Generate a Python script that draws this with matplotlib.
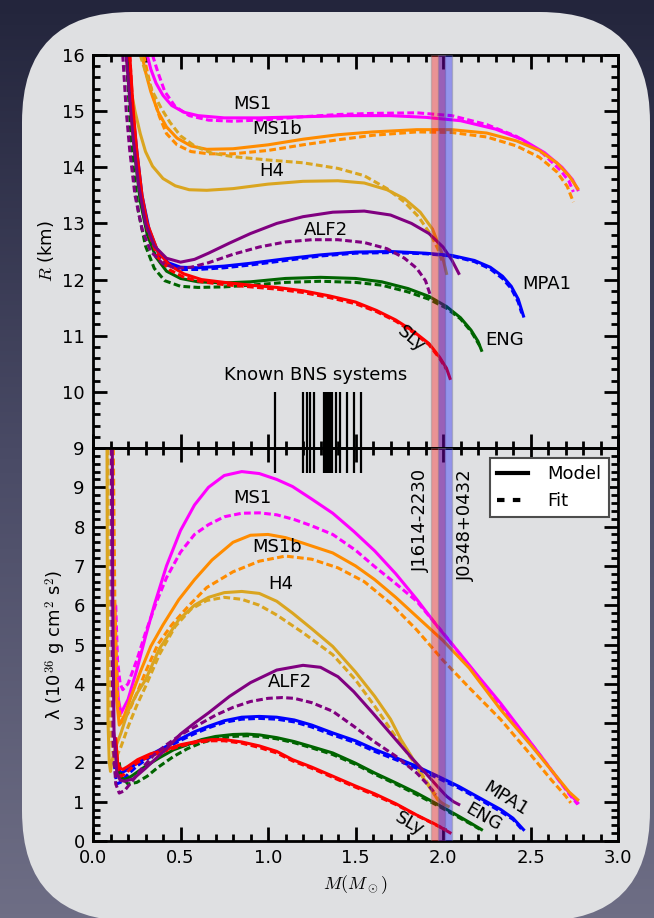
import numpy as np
import matplotlib
matplotlib.use("Agg")
import matplotlib.pyplot as plt
from matplotlib.patches import FancyBboxPatch
from matplotlib.lines import Line2D
from matplotlib.ticker import MultipleLocator

plt.rcParams['font.family'] = ['DejaVu Sans']
plt.rcParams['mathtext.fontset'] = 'cm'

# ---- data: R(M) panel (model = solid, fit = dashed) ----
ms1_m = [0.31, 0.33, 0.36, 0.40, 0.45, 0.52, 0.60, 0.75, 0.95, 1.2, 1.45, 1.7, 1.9, 2.1, 2.3, 2.45, 2.58, 2.68, 2.74, 2.77]
ms1_r = [16.0, 15.75, 15.5, 15.28, 15.1, 14.98, 14.92, 14.88, 14.88, 14.9, 14.92, 14.92, 14.89, 14.83, 14.68, 14.5, 14.26, 14.0, 13.78, 13.6]
ms1_fm = [0.34, 0.37, 0.41, 0.47, 0.55, 0.66, 0.8, 1.0, 1.2, 1.4, 1.6, 1.85, 2.05, 2.25, 2.42, 2.57, 2.67, 2.72, 2.745]
ms1_fr = [16.0, 15.7, 15.35, 15.08, 14.92, 14.84, 14.82, 14.85, 14.9, 14.94, 14.96, 14.97, 14.92, 14.76, 14.55, 14.25, 13.95, 13.75, 13.56]

ms1b_m = [0.28, 0.30, 0.33, 0.37, 0.42, 0.48, 0.56, 0.65, 0.8, 1.0, 1.2, 1.4, 1.6, 1.85, 2.05, 2.25, 2.42, 2.55, 2.65, 2.72, 2.77]
ms1b_r = [16.0, 15.7, 15.35, 15.0, 14.72, 14.52, 14.38, 14.32, 14.33, 14.4, 14.5, 14.58, 14.63, 14.67, 14.67, 14.61, 14.47, 14.3, 14.08, 13.85, 13.62]
ms1b_fm = [0.29, 0.31, 0.34, 0.38, 0.42, 0.48, 0.56, 0.66, 0.8, 1.0, 1.2, 1.4, 1.6, 1.85, 2.05, 2.25, 2.42, 2.55, 2.65, 2.71, 2.745]
ms1b_fr = [16.0, 15.7, 15.3, 14.9, 14.6, 14.4, 14.28, 14.24, 14.24, 14.3, 14.4, 14.49, 14.57, 14.63, 14.62, 14.54, 14.38, 14.18, 13.92, 13.66, 13.38]

h4_m = [0.19, 0.21, 0.24, 0.27, 0.30, 0.34, 0.40, 0.47, 0.55, 0.65, 0.8, 1.0, 1.2, 1.4, 1.55, 1.68, 1.78, 1.87, 1.94, 1.99, 2.02]
h4_r = [16.0, 15.5, 15.0, 14.6, 14.28, 14.02, 13.8, 13.67, 13.6, 13.59, 13.62, 13.7, 13.75, 13.76, 13.72, 13.6, 13.44, 13.2, 12.9, 12.5, 12.11]
h4_fm = [0.27, 0.30, 0.34, 0.39, 0.44, 0.50, 0.58, 0.68, 0.8, 1.0, 1.2, 1.4, 1.55, 1.68, 1.78, 1.86, 1.93, 1.97, 2.0]
h4_fr = [16.0, 15.7, 15.35, 15.05, 14.8, 14.56, 14.38, 14.25, 14.19, 14.13, 14.08, 13.98, 13.85, 13.62, 13.38, 13.12, 12.8, 12.55, 12.29]

alf2_m = [0.19, 0.21, 0.23, 0.26, 0.30, 0.35, 0.42, 0.50, 0.58, 0.66, 0.78, 0.9, 1.05, 1.2, 1.37, 1.55, 1.7, 1.82, 1.92, 2.0, 2.05, 2.09]
alf2_r = [16.0, 15.2, 14.5, 13.7, 13.0, 12.6, 12.38, 12.31, 12.36, 12.47, 12.65, 12.82, 13.0, 13.12, 13.2, 13.22, 13.15, 13.0, 12.82, 12.58, 12.35, 12.11]
alf2_fm = [0.17, 0.19, 0.21, 0.24, 0.28, 0.33, 0.40, 0.48, 0.56, 0.66, 0.8, 0.95, 1.1, 1.25, 1.4, 1.55, 1.68, 1.78, 1.85, 1.9, 1.93]
alf2_fr = [16.0, 15.0, 14.3, 13.5, 12.9, 12.5, 12.28, 12.2, 12.22, 12.3, 12.45, 12.58, 12.67, 12.71, 12.71, 12.66, 12.55, 12.38, 12.2, 11.98, 11.7]

mpa1_m = [0.20, 0.22, 0.25, 0.28, 0.32, 0.37, 0.43, 0.50, 0.6, 0.75, 0.9, 1.1, 1.3, 1.5, 1.7, 1.9, 2.05, 2.18, 2.27, 2.34, 2.39, 2.43, 2.46]
mpa1_r = [16.0, 15.2, 14.3, 13.5, 12.9, 12.5, 12.3, 12.22, 12.21, 12.24, 12.29, 12.37, 12.44, 12.49, 12.5, 12.47, 12.43, 12.34, 12.22, 12.06, 11.88, 11.65, 11.35]
mpa1_fm = [0.20, 0.22, 0.25, 0.28, 0.32, 0.37, 0.43, 0.50, 0.6, 0.75, 0.9, 1.1, 1.3, 1.5, 1.7, 1.9, 2.05, 2.18, 2.27, 2.34, 2.39, 2.43, 2.45]
mpa1_fr = [16.0, 15.1, 14.2, 13.4, 12.8, 12.42, 12.25, 12.18, 12.18, 12.21, 12.26, 12.34, 12.42, 12.47, 12.48, 12.46, 12.42, 12.32, 12.19, 12.02, 11.84, 11.6, 11.4]

eng_m = [0.20, 0.22, 0.24, 0.27, 0.31, 0.36, 0.42, 0.50, 0.6, 0.75, 0.9, 1.1, 1.3, 1.5, 1.65, 1.8, 1.92, 2.02, 2.1, 2.16, 2.2, 2.22]
eng_r = [16.0, 15.0, 14.2, 13.4, 12.8, 12.4, 12.15, 12.02, 11.96, 11.94, 11.96, 12.02, 12.04, 12.02, 11.96, 11.84, 11.7, 11.52, 11.32, 11.1, 10.9, 10.74]
eng_fm = [0.19, 0.21, 0.23, 0.26, 0.30, 0.35, 0.41, 0.50, 0.6, 0.75, 0.9, 1.1, 1.3, 1.5, 1.65, 1.8, 1.92, 2.02, 2.1, 2.16, 2.21]
eng_fr = [16.0, 14.9, 14.0, 13.2, 12.6, 12.2, 11.98, 11.88, 11.86, 11.87, 11.9, 11.95, 11.97, 11.95, 11.9, 11.78, 11.65, 11.49, 11.3, 11.08, 10.82]

sly_m = [0.21, 0.23, 0.25, 0.28, 0.31, 0.37, 0.44, 0.52, 0.62, 0.75, 0.9, 1.05, 1.2, 1.35, 1.5, 1.62, 1.73, 1.83, 1.92, 1.98, 2.02, 2.04]
sly_r = [16.0, 15.0, 14.3, 13.5, 13.0, 12.5, 12.25, 12.1, 12.0, 11.95, 11.9, 11.86, 11.8, 11.71, 11.6, 11.45, 11.28, 11.08, 10.86, 10.62, 10.42, 10.24]
sly_fm = [0.21, 0.23, 0.25, 0.28, 0.31, 0.37, 0.44, 0.52, 0.62, 0.75, 0.9, 1.05, 1.2, 1.35, 1.5, 1.62, 1.73, 1.83, 1.92, 1.98, 2.02]
sly_fr = [16.0, 14.9, 14.2, 13.4, 12.9, 12.4, 12.17, 12.04, 11.96, 11.91, 11.87, 11.83, 11.77, 11.68, 11.57, 11.43, 11.26, 11.06, 10.84, 10.6, 10.4]

# ---- data: lambda(M) panel, 1e36 g cm^2 s^2 ----
ms1_lm = [0.125, 0.13, 0.145, 0.16, 0.2, 0.25, 0.3, 0.35, 0.42, 0.5, 0.58, 0.66, 0.75, 0.85, 0.95, 1.05, 1.14, 1.25, 1.37, 1.49, 1.61, 1.73, 1.85, 1.97, 2.1, 2.2, 2.33, 2.45, 2.57, 2.67, 2.73, 2.77]
ms1_l = [6.0, 4.8, 3.6, 3.25, 3.6, 4.35, 5.2, 6.0, 7.0, 7.9, 8.55, 9.0, 9.3, 9.4, 9.35, 9.2, 9.02, 8.7, 8.34, 7.88, 7.38, 6.8, 6.15, 5.45, 4.75, 4.2, 3.5, 2.8, 2.1, 1.5, 1.18, 0.97]
ms1_flm = [0.13, 0.14, 0.155, 0.17, 0.2, 0.25, 0.3, 0.36, 0.42, 0.5, 0.58, 0.66, 0.75, 0.85, 0.95, 1.05, 1.15, 1.25, 1.37, 1.5, 1.61, 1.73, 1.85, 2.0, 2.15, 2.33, 2.5, 2.62, 2.72, 2.77]
ms1_fl = [6.0, 4.6, 4.0, 3.85, 4.0, 4.6, 5.3, 6.05, 6.7, 7.35, 7.8, 8.05, 8.25, 8.34, 8.35, 8.3, 8.18, 8.02, 7.8, 7.4, 6.98, 6.55, 6.1, 5.3, 4.45, 3.43, 2.5, 1.8, 1.2, 0.93]

ms1b_lm = [0.12, 0.125, 0.135, 0.15, 0.18, 0.22, 0.27, 0.33, 0.4, 0.49, 0.58, 0.68, 0.8, 0.9, 1.0, 1.1, 1.2, 1.37, 1.5, 1.61, 1.73, 1.85, 2.0, 2.15, 2.33, 2.5, 2.62, 2.72, 2.77]
ms1b_l = [6.0, 4.6, 3.6, 2.95, 3.2, 3.7, 4.3, 4.95, 5.5, 6.14, 6.65, 7.15, 7.6, 7.78, 7.8, 7.72, 7.58, 7.33, 7.0, 6.65, 6.2, 5.71, 5.1, 4.4, 3.34, 2.45, 1.8, 1.25, 1.05]
ms1b_flm = [0.115, 0.125, 0.14, 0.16, 0.2, 0.25, 0.3, 0.37, 0.45, 0.55, 0.65, 0.8, 0.95, 1.1, 1.25, 1.4, 1.55, 1.7, 1.85, 2.0, 2.15, 2.33, 2.5, 2.62, 2.7, 2.73]
ms1b_fl = [10.5, 6.0, 3.7, 3.0, 3.25, 3.75, 4.3, 5.0, 5.5, 6.0, 6.45, 6.85, 7.12, 7.25, 7.17, 6.95, 6.6, 6.05, 5.37, 4.6, 3.9, 3.09, 2.2, 1.55, 1.15, 0.97]

h4_lm = [0.08, 0.082, 0.086, 0.093, 0.1, 0.11, 0.13, 0.16, 0.2, 0.25, 0.3, 0.38, 0.49, 0.58, 0.66, 0.75, 0.85, 0.95, 1.05, 1.14, 1.25, 1.37, 1.5, 1.61, 1.7, 1.76, 1.82, 1.88, 1.93, 1.97, 2.0, 2.03]
h4_l = [10.5, 6.0, 3.0, 2.0, 1.77, 2.07, 2.4, 2.75, 3.3, 3.75, 4.1, 4.9, 5.63, 6.0, 6.2, 6.32, 6.35, 6.3, 6.1, 5.8, 5.4, 4.95, 4.3, 3.68, 3.1, 2.58, 2.15, 1.65, 1.32, 1.05, 0.95, 0.88]
h4_flm = [0.085, 0.09, 0.1, 0.115, 0.13, 0.16, 0.2, 0.25, 0.3, 0.38, 0.47, 0.56, 0.65, 0.75, 0.85, 0.95, 1.05, 1.2, 1.37, 1.5, 1.61, 1.73, 1.85, 1.93, 2.0]
h4_fl = [10.5, 5.0, 2.8, 2.2, 2.1, 2.4, 2.9, 3.45, 3.93, 4.75, 5.46, 5.9, 6.12, 6.2, 6.15, 6.0, 5.75, 5.3, 4.74, 4.1, 3.43, 2.65, 1.9, 1.35, 0.88]

alf2_lm = [0.11, 0.113, 0.12, 0.136, 0.155, 0.18, 0.23, 0.3, 0.36, 0.42, 0.5, 0.58, 0.66, 0.78, 0.9, 1.05, 1.2, 1.3, 1.4, 1.49, 1.6, 1.73, 1.82, 1.9, 1.97, 2.02, 2.06, 2.09]
alf2_l = [10.5, 6.0, 2.8, 1.73, 1.55, 1.52, 1.58, 1.85, 2.1, 2.35, 2.72, 3.0, 3.26, 3.68, 4.03, 4.35, 4.47, 4.42, 4.18, 3.8, 3.25, 2.58, 2.12, 1.73, 1.38, 1.14, 1.0, 0.93]
alf2_flm = [0.105, 0.108, 0.115, 0.13, 0.15, 0.18, 0.22, 0.28, 0.35, 0.42, 0.5, 0.6, 0.7, 0.8, 0.9, 1.0, 1.08, 1.15, 1.25, 1.37, 1.49, 1.6, 1.73, 1.85, 1.92, 1.96]
alf2_fl = [10.5, 5.5, 2.5, 1.45, 1.22, 1.28, 1.5, 1.85, 2.2, 2.45, 2.7, 2.95, 3.2, 3.4, 3.55, 3.63, 3.65, 3.63, 3.52, 3.3, 2.92, 2.55, 2.16, 1.73, 1.4, 1.18]

mpa1_lm = [0.125, 0.14, 0.16, 0.19, 0.255, 0.33, 0.42, 0.5, 0.58, 0.66, 0.75, 0.85, 0.95, 1.05, 1.15, 1.25, 1.37, 1.5, 1.61, 1.73, 1.85, 1.97, 2.09, 2.2, 2.33, 2.4, 2.46]
mpa1_l = [2.6, 1.85, 1.73, 1.8, 1.99, 2.2, 2.41, 2.6, 2.78, 2.92, 3.06, 3.15, 3.17, 3.15, 3.08, 2.95, 2.75, 2.55, 2.33, 2.12, 1.9, 1.65, 1.39, 1.12, 0.8, 0.58, 0.29]
mpa1_flm = [0.12, 0.135, 0.16, 0.2, 0.255, 0.33, 0.42, 0.5, 0.58, 0.66, 0.75, 0.85, 0.95, 1.05, 1.15, 1.25, 1.37, 1.5, 1.61, 1.73, 1.85, 1.97, 2.09, 2.2, 2.33, 2.4, 2.45]
mpa1_fl = [2.0, 1.45, 1.5, 1.7, 1.92, 2.15, 2.37, 2.56, 2.73, 2.88, 3.02, 3.1, 3.12, 3.1, 3.03, 2.9, 2.7, 2.5, 2.28, 2.07, 1.85, 1.6, 1.35, 1.08, 0.75, 0.55, 0.3]

eng_lm = [0.13, 0.145, 0.16, 0.18, 0.22, 0.3, 0.38, 0.46, 0.54, 0.62, 0.7, 0.8, 0.88, 0.95, 1.05, 1.15, 1.25, 1.37, 1.5, 1.61, 1.73, 1.85, 1.97, 2.09, 2.16, 2.22]
eng_l = [2.4, 1.75, 1.6, 1.56, 1.65, 1.9, 2.12, 2.32, 2.45, 2.58, 2.66, 2.71, 2.72, 2.7, 2.63, 2.53, 2.4, 2.24, 1.98, 1.73, 1.48, 1.22, 0.93, 0.63, 0.45, 0.29]
eng_flm = [0.15, 0.16, 0.2, 0.25, 0.31, 0.37, 0.46, 0.54, 0.62, 0.7, 0.8, 0.88, 0.95, 1.05, 1.15, 1.25, 1.37, 1.5, 1.61, 1.73, 1.85, 1.97, 2.09, 2.16, 2.21]
eng_fl = [2.0, 1.65, 1.45, 1.49, 1.65, 1.87, 2.15, 2.35, 2.5, 2.6, 2.66, 2.68, 2.66, 2.6, 2.5, 2.37, 2.2, 1.95, 1.7, 1.45, 1.18, 0.9, 0.6, 0.43, 0.3]

sly_lm = [0.13, 0.14, 0.155, 0.17, 0.2, 0.255, 0.33, 0.42, 0.5, 0.6, 0.68, 0.75, 0.85, 0.95, 1.05, 1.14, 1.25, 1.37, 1.5, 1.61, 1.73, 1.85, 1.95, 2.04]
sly_l = [2.6, 2.0, 1.85, 1.82, 1.9, 2.07, 2.22, 2.33, 2.45, 2.54, 2.58, 2.58, 2.52, 2.42, 2.28, 2.07, 1.88, 1.65, 1.4, 1.2, 0.95, 0.66, 0.44, 0.21]
sly_flm = [0.135, 0.145, 0.16, 0.18, 0.21, 0.255, 0.33, 0.42, 0.5, 0.6, 0.68, 0.75, 0.85, 0.95, 1.05, 1.14, 1.25, 1.37, 1.5, 1.61, 1.73, 1.85, 1.95, 2.02]
sly_fl = [2.2, 1.75, 1.65, 1.7, 1.82, 2.0, 2.17, 2.3, 2.42, 2.52, 2.55, 2.55, 2.49, 2.38, 2.24, 2.04, 1.85, 1.62, 1.37, 1.17, 0.93, 0.65, 0.43, 0.28]

# known BNS component masses and the two heavy pulsars
bns_masses = [1.04, 1.20, 1.22, 1.24, 1.26, 1.32, 1.33, 1.345, 1.355, 1.365, 1.39, 1.41, 1.45, 1.49, 1.53]
psr_bands = [(1.93, 2.01, 'red'), (1.97, 2.05, 'blue')]

eos = [
    ('MS1', 'magenta', ms1_m, ms1_r, ms1_fm, ms1_fr, ms1_lm, ms1_l, ms1_flm, ms1_fl),
    ('MS1b', 'darkorange', ms1b_m, ms1b_r, ms1b_fm, ms1b_fr, ms1b_lm, ms1b_l, ms1b_flm, ms1b_fl),
    ('H4', 'goldenrod', h4_m, h4_r, h4_fm, h4_fr, h4_lm, h4_l, h4_flm, h4_fl),
    ('MPA1', 'blue', mpa1_m, mpa1_r, mpa1_fm, mpa1_fr, mpa1_lm, mpa1_l, mpa1_flm, mpa1_fl),
    ('ENG', 'darkgreen', eng_m, eng_r, eng_fm, eng_fr, eng_lm, eng_l, eng_flm, eng_fl),
    ('SLy', 'red', sly_m, sly_r, sly_fm, sly_fr, sly_lm, sly_l, sly_flm, sly_fl),
    ('ALF2', 'purple', alf2_m, alf2_r, alf2_fm, alf2_fr, alf2_lm, alf2_l, alf2_flm, alf2_fl),
]

W, H = 654, 918
fig = plt.figure(figsize=(W / 100, H / 100), dpi=100)

# background: dark gradient + rounded light panel
bg = fig.add_axes([0, 0, 1, 1], zorder=-10)
grad = np.linspace(0, 1, 256)[:, None]
cmap = matplotlib.colors.LinearSegmentedColormap.from_list('bg', ['#23253c', '#4a4b66', '#6e6e85'])
bg.imshow(grad, aspect='auto', cmap=cmap, extent=[0, W, H, 0])
bg.add_patch(FancyBboxPatch((22, 12), 628, 909, boxstyle='round,pad=0,rounding_size=110',
                            facecolor='#dfe0e2', edgecolor='none'))
bg.set_xlim(0, W)
bg.set_ylim(H, 0)
bg.axis('off')

left, width = 93 / W, 525 / W
ax1 = fig.add_axes([left, 1 - 448 / H, width, 393 / H])
ax2 = fig.add_axes([left, 1 - 841 / H, width, 393 / H])

fit_ls = (0, (2.2, 1.1))
for name, c, m, r, fm, fr, lm, l, flm, fl in eos:
    ax1.plot(m, r, color=c, lw=2.2)
    ax1.plot(fm, fr, color=c, lw=2.2, ls=fit_ls)
    ax2.plot(lm, l, color=c, lw=2.2)
    ax2.plot(flm, fl, color=c, lw=2.2, ls=fit_ls)

for ax in (ax1, ax2):
    ax.set_facecolor('none')
    for lo, hi, c in psr_bands:
        ax.axvspan(lo, hi, facecolor=c, alpha=0.34, edgecolor='gray', lw=1, zorder=3)
    ax.set_xlim(0, 3.0)
    ax.xaxis.set_major_locator(MultipleLocator(0.5))
    ax.xaxis.set_minor_locator(MultipleLocator(0.1))
    ax.yaxis.set_major_locator(MultipleLocator(1))
    ax.yaxis.set_minor_locator(MultipleLocator(0.2))
    ax.tick_params(which='both', direction='in', top=True, right=True, labelsize=13, pad=6)
    ax.tick_params(which='major', length=10, width=2)
    ax.tick_params(which='minor', length=5, width=2)
    for s in ax.spines.values():
        s.set_linewidth(2)

ax1.set_ylim(9, 16)
ax1.set_yticks(range(9, 17))
ax1.tick_params(labelbottom=False)
ax1.set_ylabel('$R$ (km)', fontsize=13)

ax2.set_ylim(0, 10)
ax2.set_yticks(range(0, 10))
ax2.set_xlabel(r'$M(M_\odot)$', fontsize=13)
ax2.set_ylabel(r'λ (10$^{36}$ g cm$^2$ s$^2$)', fontsize=13)

# known binary neutron star systems
ax1.vlines(bns_masses, 8.55, 10.0, color='k', lw=1.6, clip_on=False, zorder=6)
ax1.text(1.27, 10.3, 'Known BNS systems', fontsize=13, ha='center', va='center')

# curve labels
ax1.text(0.91, 15.12, 'MS1', fontsize=13, ha='center', va='center')
ax1.text(1.05, 14.68, 'MS1b', fontsize=13, ha='center', va='center')
ax1.text(1.02, 13.94, 'H4', fontsize=13, ha='center', va='center')
ax1.text(1.33, 12.88, 'ALF2', fontsize=13, ha='center', va='center')
ax1.text(2.59, 11.92, 'MPA1', fontsize=13, ha='center', va='center')
ax1.text(2.35, 10.92, 'ENG', fontsize=13, ha='center', va='center')
ax1.text(1.82, 10.95, 'SLy', fontsize=13, ha='center', va='center', rotation=-40)

ax2.text(0.91, 8.72, 'MS1', fontsize=13, ha='center', va='center')
ax2.text(1.05, 7.49, 'MS1b', fontsize=13, ha='center', va='center')
ax2.text(1.07, 6.54, 'H4', fontsize=13, ha='center', va='center')
ax2.text(1.125, 4.04, 'ALF2', fontsize=13, ha='center', va='center')
ax2.text(2.36, 1.07, 'MPA1', fontsize=13, ha='center', va='center', rotation=-32)
ax2.text(2.23, 0.6, 'ENG', fontsize=13, ha='center', va='center', rotation=-30)
ax2.text(1.81, 0.44, 'SLy', fontsize=13, ha='center', va='center', rotation=-30)

ax2.text(1.875, 8.15, 'J1614-2230', fontsize=13, ha='center', va='center', rotation=90, zorder=7)
ax2.text(2.13, 8.04, 'J0348+0432', fontsize=13, ha='center', va='center', rotation=90, zorder=7)

handles = [Line2D([], [], color='k', lw=3), Line2D([], [], color='k', lw=3, ls=(0, (1.8, 2.0)))]
leg = ax2.legend(handles, ['Model', 'Fit'], loc='upper right', bbox_to_anchor=(0.983, 0.975),
                 borderaxespad=0, fontsize=13, fancybox=False, framealpha=1, handlelength=1.7,
                 handletextpad=1.1, edgecolor='0.3')
leg.get_frame().set_linewidth(1.5)
leg.set_zorder(10)

fig.savefig('out.png', dpi=100)
